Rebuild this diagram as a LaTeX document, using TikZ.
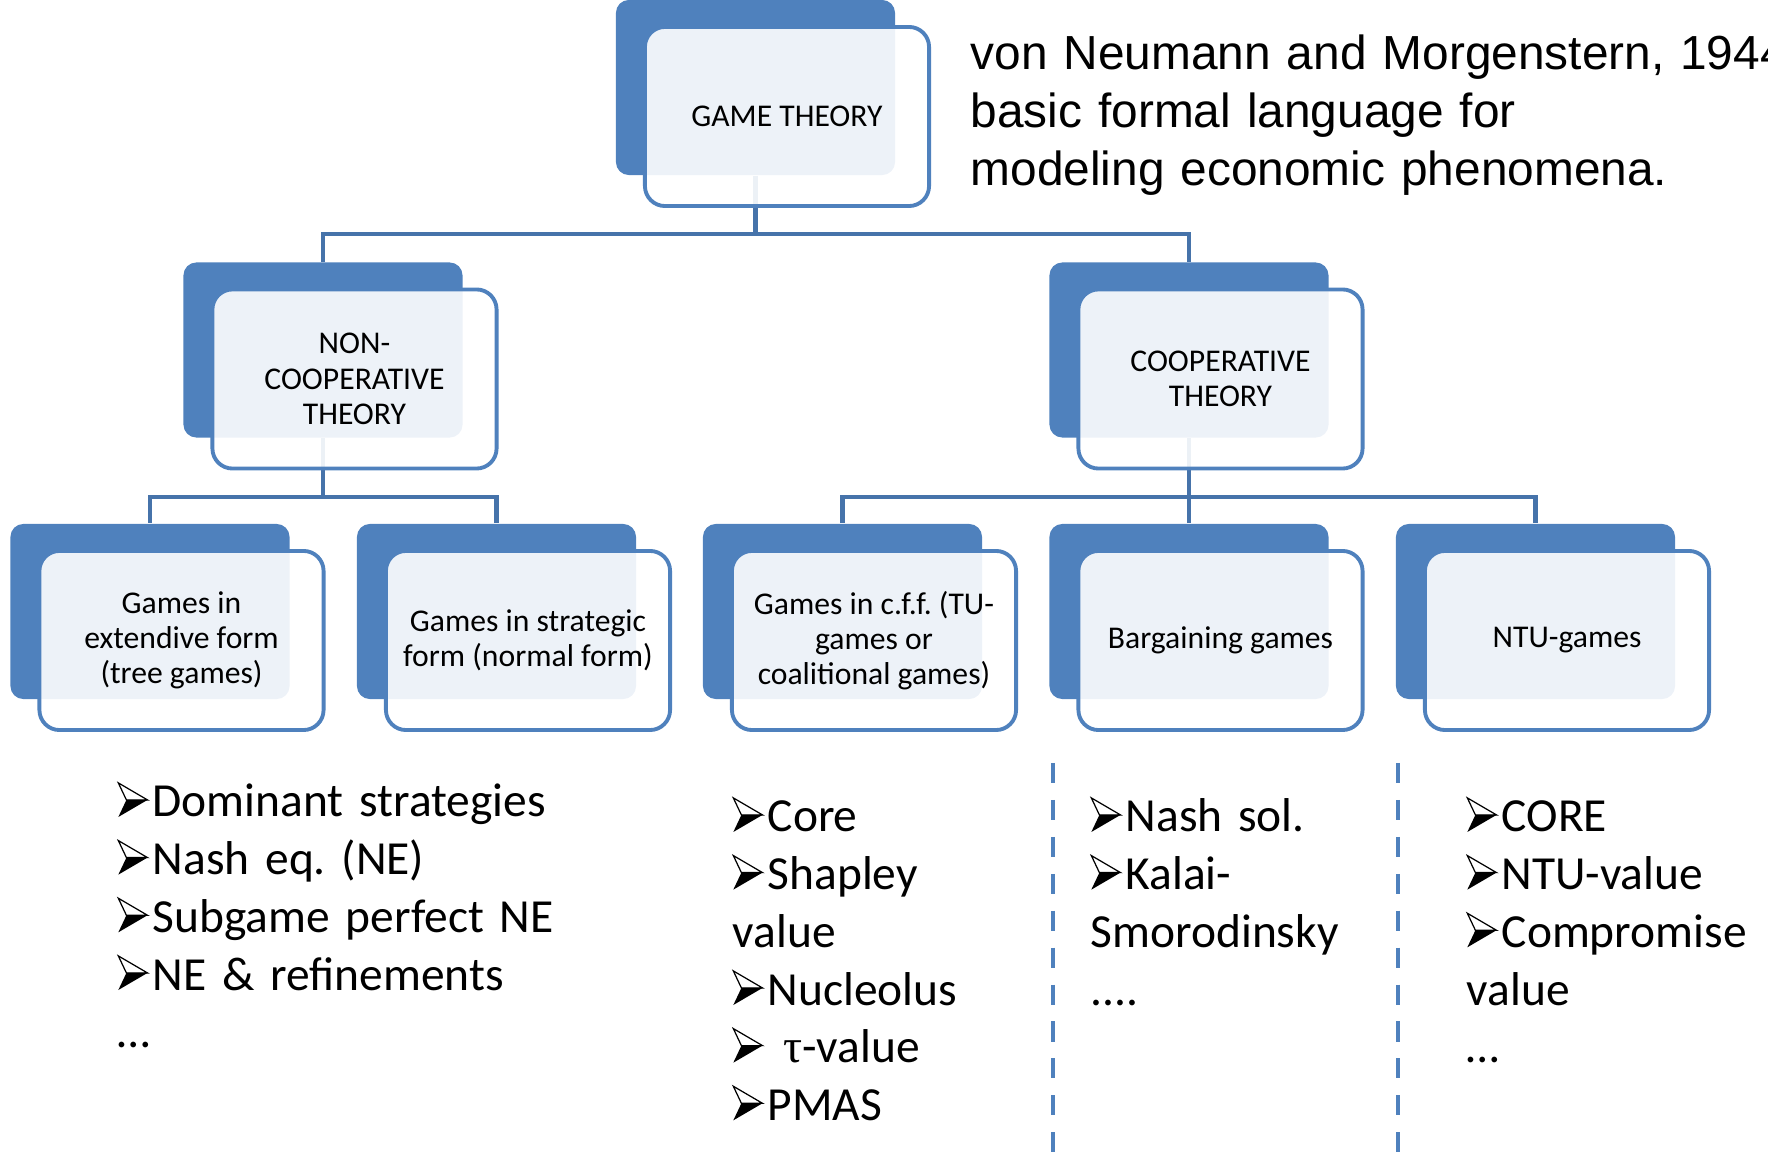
\documentclass[tikz,border=0pt]{standalone}
\usepackage{fontspec}
\setmainfont{Carlito}
\newfontfamily\arialfont{Liberation Sans}
\newfontfamily\greekfont{Liberation Serif}
\usetikzlibrary{positioning, backgrounds}
\definecolor{Blue}{HTML}{4F81BD}
\definecolor{Link}{HTML}{4673AA}
\frenchspacing
% arrowhead bullet
\newcommand{\bul}{\tikz[baseline=0pt, x=1pt, y=1pt]{%
    \fill (0,0) -- (2.3,4.85) -- (8.3,4.85) -- cycle;
    \draw[line width=0.35pt, line join=miter] (0,9.7) -- (8.3,4.85) -- (2.3,4.85) -- cycle;}\hspace{1.3pt}}
\tikzset{
    backbox/.style={rectangle, rounded corners=3.7pt, fill=Blue, minimum width=2.79cm, minimum height=1.75cm, inner sep=0pt},
    frontbox/.style={rectangle, rounded corners=5.7pt, draw=Blue, line width=1.1pt, fill=white, fill opacity=0.9, text opacity=1, minimum width=2.84cm, minimum height=1.79cm, inner sep=0pt, align=center, font=\fontsize{9}{10}\selectfont},
    link/.style={draw=Link, line width=1.4pt},
    itemlist/.style={anchor=base west, inner sep=0pt, align=left, text width=#1, font=\fontsize{13.5}{16.4}\selectfont},
    itemlist/.default=3cm,
    sepline/.style={Blue, line width=1.4pt, dash pattern=on 5.7pt off 4.8pt},
    note/.style={anchor=base west, inner sep=0pt, align=left, text width=9cm, font=\arialfont\fontsize{13.6}{16.4}\selectfont},
}
\begin{document}
\begin{tikzpicture}[x=0.01cm, y=-0.01cm]
    \useasboundingbox (0,0) rectangle (1768,1152);
    \clip (0,0) rectangle (1768,1152);

    % Root
    \node[backbox] (gt-b) at (755.5,87.5) {};
    \node[frontbox] (gt) at ([shift={(31.5,29)}]gt-b) {GAME THEORY};

    % Second level
    \node[backbox] (ncoop-b) at (323,350) {};
    \node[frontbox] (ncoop) at ([shift={(31.5,29)}]ncoop-b) {NON-\\COOPERATIVE\\THEORY};
    \node[backbox] (coop-b) at (1189,350) {};
    \node[frontbox] (coop) at ([shift={(31.5,29)}]coop-b) {COOPERATIVE\\THEORY};

    % Third level
    \foreach \n/\x/\t in {ext/150/{Games in\\extendive form\\(tree games)},
                          strat/496.5/{Games in strategic\\form (normal form)},
                          cff/842.5/{Games in c.f.f. (TU-\\games or\\coalitional games)},
                          barg/1189/{Bargaining games},
                          ntu/1535.5/{NTU-games}}{
        \node[backbox] (\n-b) at (\x,611.5) {};
        \node[frontbox] (\n) at ([shift={(31.5,29)}]\n-b) {\t};
    }

    % Tree lines
    \coordinate (j0) at (755.5,234);
    \coordinate (j1) at (323,497);
    \coordinate (j2) at (1189,497);
    \begin{scope}[on background layer]
        \draw[link] (gt-b) -- (j0);
        \draw[link] (j0) -| (ncoop-b);
        \draw[link] (j0) -| (coop-b);
        \draw[link] (ncoop-b) -- (j1);
        \draw[link] (j1) -| (ext-b);
        \draw[link] (j1) -| (strat-b);
        \draw[link] (coop-b) -- (j2);
        \draw[link] (j2) -| (cff-b);
        \draw[link] (j2) -| (barg-b);
        \draw[link] (j2) -| (ntu-b);
    \end{scope}

    % Note
    \node[note] (vnm) at (970,70) {von Neumann and Morgenstern, 1944\\basic formal language for\\modeling economic phenomena.};

    % Solution concepts
    \node[itemlist=5cm] (nclist) at (117,817) {\bul Dominant strategies\\\bul Nash eq. (NE)\\\bul Subgame perfect NE\\\bul NE \& refinements\\…};
    \node[itemlist] (tulist) at (732,832) {\bul Core\\\bul Shapley\\value\\\bul Nucleolus\\\bul\ {\greekfont τ}-value\\\bul PMAS};
    \node[itemlist] (barglist) at (1090,832) {\bul Nash sol.\\\bul Kalai-\\Smorodinsky\\....};
    \node[itemlist] (ntulist) at (1466,832) {\bul CORE\\\bul NTU-value\\\bul Compromise\\value\\…};

    % Separators
    \coordinate (s1) at (1053,763);
    \coordinate (s2) at (1398,763);
    \draw[sepline] (s1) -- ++(0,400);
    \draw[sepline] (s2) -- ++(0,400);
\end{tikzpicture}
\end{document}
